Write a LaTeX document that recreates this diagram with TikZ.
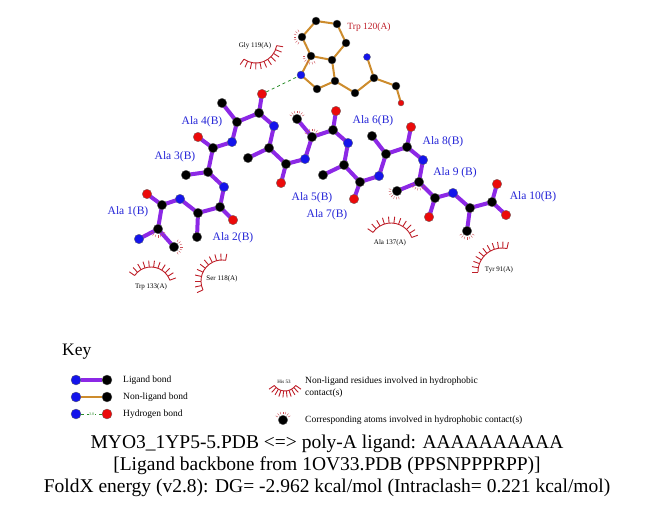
\documentclass[tikz,border=0pt]{standalone}
\usepackage{fontspec}
\setmainfont{Liberation Serif}
\usetikzlibrary{calc,backgrounds}

\definecolor{ligpurple}{RGB}{140,40,230}
\definecolor{nlorange}{RGB}{205,140,45}
\definecolor{atomblue}{RGB}{20,20,235}
\definecolor{atomred}{RGB}{235,10,10}
\definecolor{hphred}{RGB}{190,30,40}
\definecolor{labelblue}{RGB}{35,35,215}
\definecolor{hbgreen}{RGB}{40,140,40}

\tikzset{
  atom/.style={circle, inner sep=0pt, minimum size=9.5pt, draw=black!60, line width=0.3pt},
  cat/.style={atom, fill=black},
  nat/.style={atom, fill=atomblue},
  oat/.style={atom, fill=atomred},
  trpat/.style={minimum size=8pt},
  ligbond/.style={ligpurple, line width=4pt, line join=round},
  nlbond/.style={nlorange, line width=2pt, line join=round},
  hbond/.style={hbgreen, dashed, line width=0.8pt},
  hph/.style={hphred, line width=0.9pt},
  reslabel/.style={labelblue, font=\fontsize{11.5}{13}\selectfont},
  nllabel/.style={font=\fontsize{7}{8}\selectfont, inner sep=0pt},
  keytext/.style={anchor=west, font=\fontsize{9.5}{12}\selectfont, inner sep=0pt},
}

% hydrophobic arc: centre x, centre y, radius, start, end, spokes
\newcommand{\hpharc}[6]{%
  \begin{scope}[shift={(#1,#2)}]
    \draw[hph] (#4:#3) arc[start angle=#4, end angle=#5, radius=#3];
    \foreach \k in {0,...,#6}
      \draw[hph] ({#4+\k*(#5-#4)/#6}:#3) -- ({#4+\k*(#5-#4)/#6}:{#3+6.5});
  \end{scope}}
% hydrophobic spikes on an atom: node, direction
\newcommand{\hphat}[2]{%
  \foreach \a in {-60,-40,...,60}
    \draw[hphred!80, line width=0.4pt] ($(#1)+({#2+\a}:6)$) -- ($(#1)+({#2+\a}:8.5)$);}

\begin{document}
\begin{tikzpicture}[x=1pt, y=-1pt]
    \useasboundingbox (0,0) rectangle (651,511);

    % Ligand atoms (N, CA, CB, C, O)
    \node[nat] (n1) at (139,239) {};  \node[cat] (ca1) at (158,229) {};
    \node[cat] (cb1) at (174,247) {}; \node[cat] (c1) at (162,205) {};
    \node[oat] (o1) at (147,194) {};
    \node[nat] (n2) at (180,199) {};  \node[cat] (ca2) at (198,213) {};
    \node[cat] (cb2) at (197,237) {}; \node[cat] (c2) at (220,207) {};
    \node[oat] (o2) at (233,220) {};
    \node[nat] (n3) at (224,187) {};  \node[cat] (ca3) at (208,172) {};
    \node[cat] (cb3) at (186,175) {}; \node[cat] (c3) at (213,148) {};
    \node[oat] (o3) at (198,137) {};
    \node[nat] (n4) at (232,142) {};  \node[cat] (ca4) at (237,122) {};
    \node[cat] (cb4) at (222,103) {}; \node[cat] (c4) at (259,113) {};
    \node[oat] (o4) at (262,94) {};
    \node[nat] (n5) at (274,126) {};  \node[cat] (ca5) at (269,148) {};
    \node[cat] (cb5) at (248,158) {}; \node[cat] (c5) at (286,164) {};
    \node[oat] (o5) at (281,183) {};
    \node[nat] (n6) at (305,159) {};  \node[cat] (ca6) at (312,137) {};
    \node[cat] (cb6) at (297,119) {}; \node[cat] (c6) at (333,130) {};
    \node[oat] (o6) at (336,111) {};
    \node[nat] (n7) at (348,143) {};  \node[cat] (ca7) at (344,165) {};
    \node[cat] (cb7) at (323,175) {}; \node[cat] (c7) at (360,182) {};
    \node[oat] (o7) at (354,199) {};
    \node[nat] (n8) at (379,176) {};  \node[cat] (ca8) at (386,154) {};
    \node[cat] (cb8) at (372,136) {}; \node[cat] (c8) at (407,147) {};
    \node[oat] (o8) at (411,127) {};
    \node[nat] (n9) at (423,160) {};  \node[cat] (ca9) at (419,182) {};
    \node[cat] (cb9) at (397,191) {}; \node[cat] (c9) at (435,198) {};
    \node[oat] (o9) at (429,217) {};
    \node[nat] (n10) at (453,193) {}; \node[cat] (ca10) at (470,208) {};
    \node[cat] (cb10) at (467,231) {}; \node[cat] (c10) at (492,202) {};
    \node[oat] (o10) at (497,184) {}; \node[oat] (oxt) at (506,215) {};

    % Trp 120(A) atoms
    \node[cat, trpat] (tz1) at (316,21) {};
    \node[cat, trpat] (tz2) at (337,24) {};
    \node[cat, trpat] (tz3) at (346,43) {};
    \node[cat, trpat] (tz4) at (332,60) {};
    \node[cat, trpat] (tz5) at (311,56) {};
    \node[cat, trpat] (tz6) at (302,37) {};
    \node[nat, trpat] (tne) at (301,75) {};
    \node[cat, trpat] (tcd) at (317,89) {};
    \node[cat, trpat] (tcg) at (335,81) {};
    \node[cat, trpat] (tcb) at (355,93) {};
    \node[cat, trpat] (tca) at (374,78) {};
    \node[nat, minimum size=7pt] (tn) at (367,57) {};
    \node[cat, trpat] (tc) at (396,86) {};
    \node[oat, minimum size=6pt] (to) at (401,103) {};

    % Bonds under the atoms
    \begin{scope}[on background layer]
        \foreach \i in {1,...,10} {
                \draw[ligbond] (n\i.center) -- (ca\i.center) -- (c\i.center) -- (o\i.center);
                \draw[ligbond] (ca\i.center) -- (cb\i.center);
            }
        \foreach \i [evaluate=\i as \j using int(\i+1)] in {1,...,9} {
                \draw[ligbond] (c\i.center) -- (n\j.center);
            }
        \draw[ligbond] (c10.center) -- (oxt.center);

        \draw[nlbond] (tz1.center) -- (tz2.center) -- (tz3.center) -- (tz4.center)
            -- (tz5.center) -- (tz6.center) -- cycle;
        \draw[nlbond] (tz5.center) -- (tne.center) -- (tcd.center) -- (tcg.center) -- (tz4.center);
        \draw[nlbond] (tcg.center) -- (tcb.center) -- (tca.center) -- (tc.center) -- (to.center);
        \draw[nlbond] (tca.center) -- (tn.center);
    \end{scope}

    % Hydrogen bond
    \draw[hbond] (o4) -- (tne);

    % Residue labels
    \node[reslabel] (la1) at (128,212) {Ala 1(B)};
    \node[reslabel] (la2) at (233,238) {Ala 2(B)};
    \node[reslabel] (la3) at (175,157) {Ala 3(B)};
    \node[reslabel] (la4) at (202,122) {Ala 4(B)};
    \node[reslabel] (la5) at (312,198) {Ala 5(B)};
    \node[reslabel] (la6) at (373,121) {Ala 6(B)};
    \node[reslabel] (la7) at (327,215) {Ala 7(B)};
    \node[reslabel] (la8) at (443,142) {Ala 8(B)};
    \node[reslabel] (la9) at (455,173) {Ala 9 (B)};
    \node[reslabel] (la10) at (533,197) {Ala 10(B)};
    \node[hphred, font=\fontsize{9.5}{11}\selectfont] (ltrp) at (369,27) {Trp 120(A)};

    % Non-ligand residues in hydrophobic contact
    \node[nllabel] (lgly) at (255,46) {Gly 119(A)};
    \node[nllabel] (ltrp2) at (151,287) {Trp 133(A)};
    \node[nllabel] (lser) at (222,279) {Ser 118(A)};
    \node[nllabel] (lala) at (390,243) {Ala 137(A)};
    \node[nllabel] (ltyr) at (499,270) {Tyr 91(A)};
    \hpharc{256}{42}{21}{10}{125}{10}
    \hpharc{151}{287}{20}{215}{340}{10}
    \hpharc{222}{281}{21}{155}{280}{10}
    \hpharc{391}{245}{22}{215}{340}{10}
    \hpharc{502}{272}{24}{180}{282}{10}

    % Atoms in hydrophobic contact
    \hphat{ca1}{90}
    \hphat{cb1}{0}
    \hphat{cb6}{-90}
    \hphat{ca6}{-90}
    \hphat{ca9}{100}
    \hphat{cb9}{135}
    \hphat{cb10}{90}
    \hphat{tz6}{180}
    \hphat{tz5}{120}

    % Key
    \node[anchor=west, font=\fontsize{17.5}{20}\selectfont, inner sep=0pt] (key) at (62,352) {Key};
    \node[nat, minimum size=10pt] (k1a) at (76,380) {};
    \node[cat, minimum size=10pt] (k1b) at (107,380) {};
    \node[nat, minimum size=10pt] (k2a) at (76,397) {};
    \node[cat, minimum size=10pt] (k2b) at (107,397) {};
    \node[nat, minimum size=10pt] (k3a) at (76,414) {};
    \node[oat, minimum size=10pt] (k3b) at (107,414) {};
    \draw[ligbond] (k1a) -- (k1b);
    \draw[nlbond] (k2a) -- (k2b);
    \draw[hbond] (k3a) -- (k3b)
        node[midway, fill=white, inner sep=0.5pt, font=\fontsize{4}{4}\selectfont] {3.0};
    \node[keytext] (kt1) at (123,380) {Ligand bond};
    \node[keytext] (kt2) at (123,397) {Non-ligand bond};
    \node[keytext] (kt3) at (123,414) {Hydrogen bond};

    \node[font=\fontsize{5}{6}\selectfont, inner sep=0pt] (khis) at (284,382) {His 53};
    \hpharc{285}{378}{13}{35}{145}{9}
    \node[keytext, align=left] (kt4) at (305,387)
        {Non-ligand residues involved in hydrophobic\\contact(s)};
    \node[cat] (katm) at (283,420) {};
    \hphat{katm}{-90}
    \node[keytext] (kt5) at (305,420) {Corresponding atoms involved in hydrophobic contact(s)};

    % Title
    \node[align=center, font=\fontsize{19.5}{22}\selectfont, inner sep=0pt] (title) at (327,466)
        {MYO3\_1YP5-5.PDB <=> poly-A ligand: AAAAAAAAAA\\
         {[Ligand backbone from 1OV33.PDB (PPSNPPPRPP)]}\\
         FoldX energy (v2.8): DG= -2.962 kcal/mol (Intraclash= 0.221 kcal/mol)};
\end{tikzpicture}
\end{document}
